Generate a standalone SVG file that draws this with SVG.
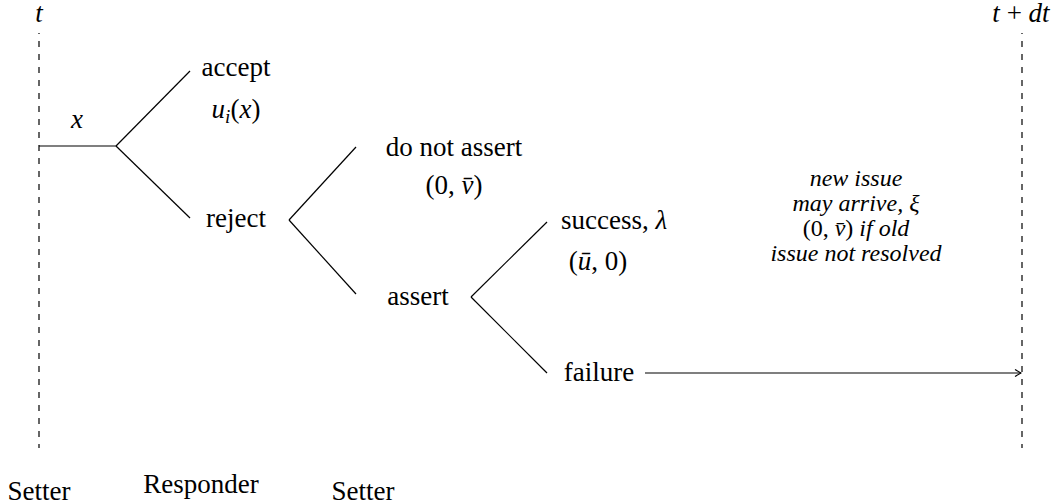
<svg xmlns="http://www.w3.org/2000/svg" width="1057" height="504" viewBox="0 0 1057 504">
  <style>
    text { font-family: "Liberation Serif", Tinos, "Noto Serif", "DejaVu Serif", FreeSerif, "Nimbus Roman", "Times New Roman", Times, serif; font-size: 27px; fill: #000; }
    .c { text-anchor: middle; }
    .i { font-style: italic; }
    .sub { font-size: 19px; font-style: italic; }
    .note { font-size: 24px; }
    .edge { stroke: #000; stroke-width: 1.2; fill: none; }
    .time { stroke: #000; stroke-width: 1.2; stroke-dasharray: 6 7; stroke-dashoffset: 5; fill: none; }
  </style>
  <defs>
    <marker id="head" viewBox="0 0 8 10" refX="7" refY="5" markerWidth="8" markerHeight="10" markerUnits="userSpaceOnUse" orient="auto">
      <path d="M1,1.5 L7,5 L1,8.5" fill="none" stroke="#000" stroke-width="1.1"/>
    </marker>
  </defs>

  <!-- time markers -->
  <g id="time-t">
    <text class="c i" x="39" y="22">t</text>
    <line class="time" x1="39" y1="33" x2="39" y2="448"/>
  </g>
  <g id="time-t-dt">
    <text class="c" x="1021" y="22"><tspan class="i">t</tspan> + <tspan class="i">dt</tspan></text>
    <line class="time" x1="1022" y1="33" x2="1022" y2="448"/>
  </g>

  <!-- game tree branches -->
  <g id="connectors">
    <line class="edge" x1="39" y1="146" x2="116" y2="146"/>
    <line class="edge" x1="116" y1="146" x2="190" y2="71"/>
    <line class="edge" x1="116" y1="146" x2="190" y2="218"/>
    <line class="edge" x1="356" y1="147" x2="289" y2="220"/>
    <line class="edge" x1="289" y1="220" x2="356" y2="294"/>
    <line class="edge" x1="547" y1="222" x2="471" y2="297"/>
    <line class="edge" x1="471" y1="297" x2="547" y2="373"/>
    <line class="edge" x1="645" y1="373" x2="1021" y2="373" marker-end="url(#head)"/>
  </g>

  <g id="offer">
    <text class="c i" x="77" y="128">x</text>
  </g>
  <g id="accept">
    <text class="c" x="236" y="76">accept</text>
    <text class="c" x="236" y="118"><tspan class="i">u</tspan><tspan class="sub" dy="5">i</tspan><tspan dy="-5">(</tspan><tspan class="i">x</tspan>)</text>
  </g>
  <g id="reject">
    <text class="c" x="236" y="227">reject</text>
  </g>
  <g id="do-not-assert">
    <text class="c" x="454" y="156">do not assert</text>
    <text class="c" x="454" y="194">(0, <tspan class="i">v&#x304;</tspan>)</text>
  </g>
  <g id="assert">
    <text class="c" x="418" y="305">assert</text>
  </g>
  <g id="success">
    <text x="561" y="229">success, <tspan class="i">λ</tspan></text>
    <text class="c" x="598" y="270">(<tspan class="i">u&#x304;</tspan>, 0)</text>
  </g>
  <g id="failure">
    <text class="c" x="599" y="381">failure</text>
  </g>
  <g id="new-issue">
    <text class="c i note" x="856" y="186">new issue</text>
    <text class="c i note" x="856" y="211">may arrive, ξ</text>
    <text class="c note" x="856" y="236">(0, <tspan class="i">v&#x304;</tspan>) <tspan class="i">if old</tspan></text>
    <text class="c i note" x="856" y="261">issue not resolved</text>
  </g>

  <!-- movers at each stage -->
  <g id="movers">
    <text class="c" x="39" y="500">Setter</text>
    <text class="c" x="201" y="493">Responder</text>
    <text class="c" x="363" y="500">Setter</text>
  </g>
</svg>
